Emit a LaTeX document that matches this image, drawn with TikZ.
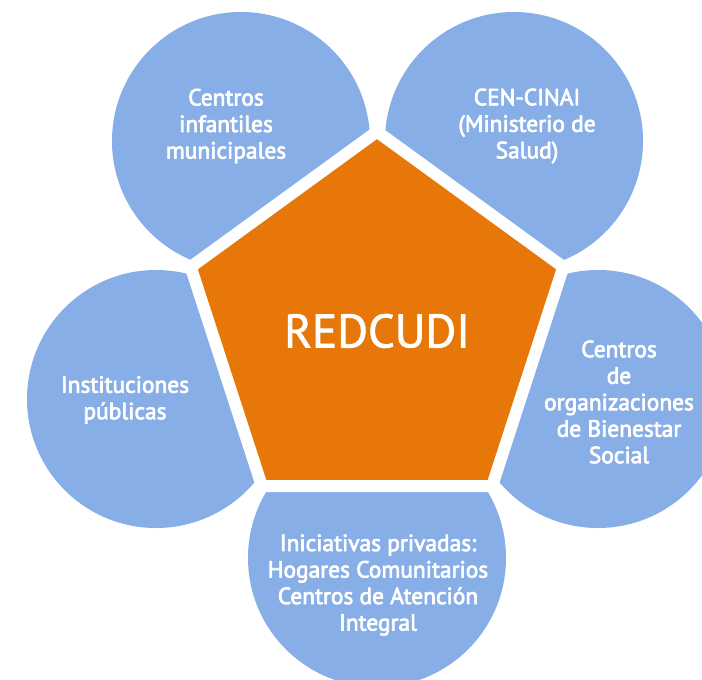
\documentclass[tikz,border=0pt]{standalone}
\usepackage{fontspec}
\setmainfont{PT Sans}
\newcommand\heavyon{\special{pdf:literal direct 2 Tr 0.7 w}}
\newcommand\heavyoff{\special{pdf:literal direct 0 Tr}}
\definecolor{petal}{RGB}{135,174,230}
\definecolor{core}{RGB}{230,119,8}
\begin{document}
\begin{tikzpicture}[x=1pt,y=-1pt,
  petalc/.style={circle,fill=petal,minimum size=258pt,inner sep=0pt},
  petaltext/.style={text=white,align=center,font=\fontsize{23.4}{26.5}\selectfont,inner sep=0pt},
  coretext/.style={text=white,font=\fontsize{47}{52}\selectfont,inner sep=0pt}]
\useasboundingbox (0,0) rectangle (702,680);
\clip (0,0) rectangle (702,680);
\fill[white] (0,0) rectangle (702,680);
\node[petalc] (ptl) at (241,141) {};
\node[petalc] (ptr) at (514,141) {};
\node[petalc] (pl) at (156,399) {};
\node[petalc] (pr) at (598,399) {};
\node[petalc] (pb) at (377,558) {};
\draw[white,line width=12pt,line join=miter,fill=core]
  (377,131.6) -- (563.3,267.0) -- (492.1,486.0) -- (261.9,486.0) -- (190.7,267.0) -- cycle;
\node[coretext] (core) at (377,331) {\heavyon REDCUDI\heavyoff};
\node[petaltext] (ttl) at (226,126) {\heavyon Centros\\\heavyon infantiles\\\heavyon municipales\heavyoff};
\node[petaltext] (ttr) at (527,126) {\heavyon CEN-CINAI\\\heavyon (Ministerio de\\\heavyon Salud)\heavyoff};
\node[petaltext] (tl) at (125,400) {\heavyon Instituciones\\\heavyon públicas\heavyoff};
\node[petaltext] (tr) at (619,402) {\heavyon Centros\\\heavyon de\\\heavyon organizaciones\\\heavyon de Bienestar\\\heavyon Social\heavyoff};
\node[petaltext] (tb) at (378,585) {\heavyon Iniciativas privadas:\\\heavyon Hogares Comunitarios\\\heavyon Centros de Atención\\\heavyon Integral\heavyoff};
\end{tikzpicture}
\end{document}
